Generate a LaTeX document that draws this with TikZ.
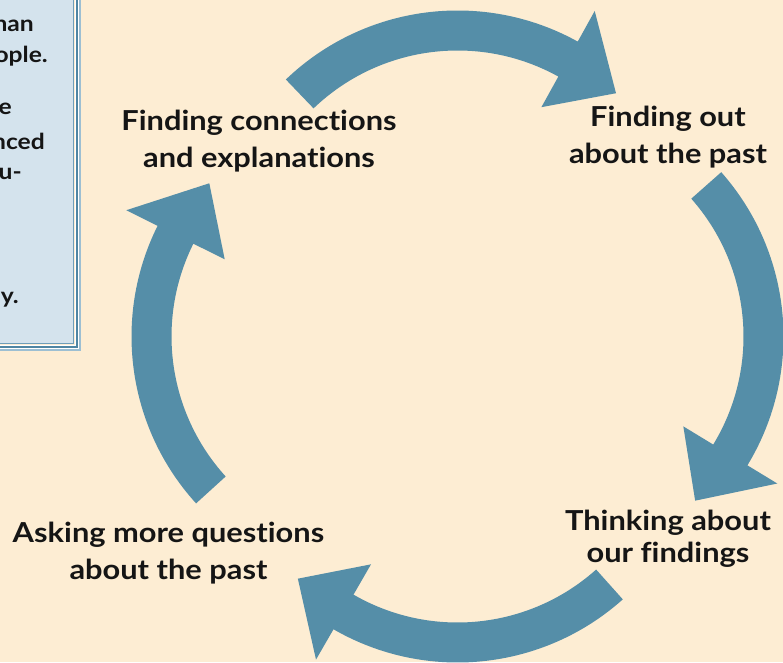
\documentclass[tikz,border=0pt]{standalone}
\usepackage{fontspec}
\setmainfont{Lato}[FakeStretch=1.12, Ligatures=NoCommon]
\definecolor{bg}{HTML}{FDEDD3}
\definecolor{arr}{HTML}{558EA8}
\definecolor{boxfill}{HTML}{D4E3ED}
\definecolor{blineA}{HTML}{6E9EBA}
\definecolor{blineB}{HTML}{4F86A3}
\definecolor{blineC}{HTML}{9DBFD2}
\definecolor{txt}{HTML}{151515}
\tikzset{
  label/.style={font=\fontsize{27.5}{37}\selectfont\bfseries, text=txt, align=center, inner sep=0pt},
  boxtxt/.style={font=\fontsize{22}{26}\selectfont\bfseries, text=txt, inner sep=0pt, anchor=base east}
}
\begin{document}
\begin{tikzpicture}[x=1pt,y=1pt]
\useasboundingbox (0,0) rectangle (783,662);
\fill[bg] (0,0) rectangle (783,662);
% side box (partly visible)
\fill[boxfill] (-10,318.5) rectangle (73.5,672);
\draw[blineA, line width=1.6pt] (-10,318.5) -| (73.5,672);
\draw[white, line width=1.2pt] (-10,316.8) -| (75.2,672);
\draw[blineB, line width=1.6pt] (-10,315.2) -| (76.8,672);
\draw[white, line width=1.0pt] (-10,313.6) -| (78.4,672);
\draw[blineC, line width=1.6pt] (-10,312) -| (80,672);
\node[boxtxt] (b1) at (34,630) {han};
\node[boxtxt] (b2) at (48,599) {ople.};
\node[boxtxt] (b3) at (12,547) {e};
\node[boxtxt] (b4) at (45,512) {nced};
\node[boxtxt] (b5) at (22,482) {u-};
\node[boxtxt] (b6) at (19,359) {y.};
% cycle arrows: centre x/centre y/rotation/tail/base/tip (canonical angles)
\foreach \cx/\cy/\p/\t/\b/\h in {457.5/403.5/0/133.8/61/46.2,
    535.5/325.5/-90/131.5/58.7/44.2,
    457.5/247.5/-180/131.8/60/45.8,
    379.5/325.5/90/132.3/63.5/48} {
  \pgfmathsetmacro\ta{\t+\p}
  \pgfmathsetmacro\ba{\b+\p}
  \pgfmathsetmacro\tipa{\h+\p}
  \fill[arr, shift={(\cx,\cy)}] (\ta:248) arc[start angle=\ta, end angle=\ba, radius=248]
     -- (\ba:283) -- (\tipa:229) -- (\ba:173) -- (\ba:208)
     arc[start angle=\ba, end angle=\ta, radius=208] -- cycle;
}
% labels
\node[label] (conn) at (259,520.5) {Finding connections\\and explanations};
\node[label] (out) at (668,525) {Finding out\\about the past};
\node[label, font=\fontsize{27.5}{32}\selectfont\bfseries] (think) at (668,123) {Thinking about\\our findings};
\node[label] (ask) at (168.5,108.5) {Asking more questions\\about the past};
\end{tikzpicture}
\end{document}
